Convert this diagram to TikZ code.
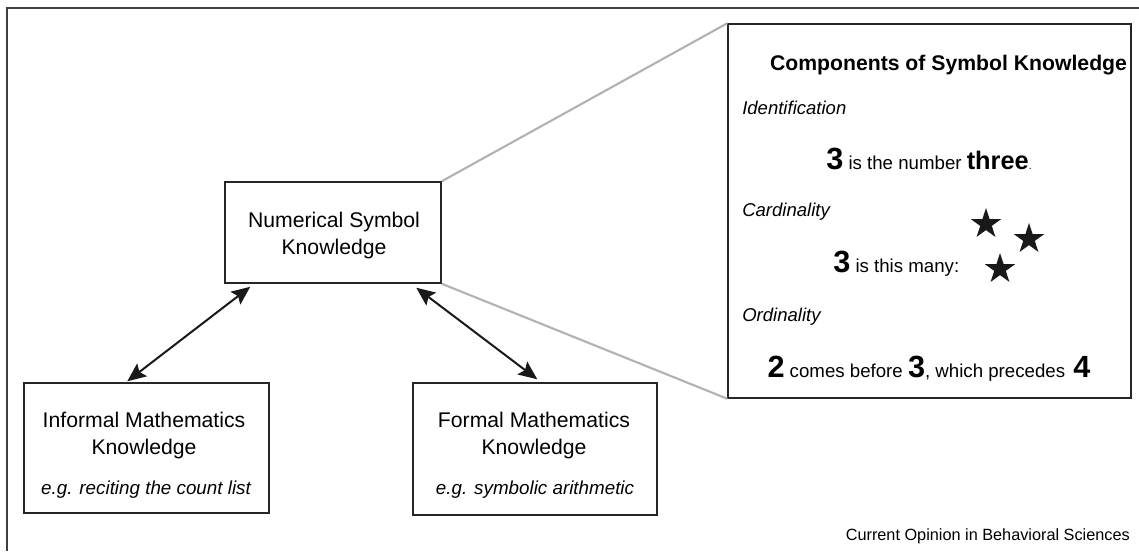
\documentclass[tikz,border=0pt]{standalone}
\usepackage{fontspec}
\setmainfont{Liberation Sans}
\usetikzlibrary{arrows.meta,shapes.geometric,calc}
\newcommand{\fs}[1]{\fontsize{#1}{#1}\selectfont}
\begin{document}
\begin{tikzpicture}[x=0.75pt,y=-0.75pt,
  box/.style={draw=black!85,line width=1.1pt,inner sep=0pt},
  lbl/.style={inner sep=0pt,align=center,font=\fontsize{15.9}{20.2}\selectfont},
  eg/.style={inner sep=0pt,font=\fontsize{14.1}{16}\selectfont\itshape},
  sec/.style={inner sep=0pt,anchor=base west,font=\fontsize{13.9}{16}\selectfont\itshape},
  ctext/.style={inner sep=0pt,font=\fontsize{14}{16}\selectfont},
  arr/.style={line width=1.5pt,black!90,arrows={Stealth[length=14pt,width=12pt,inset=2.5pt]-Stealth[length=14pt,width=12pt,inset=2.5pt]}},
  zoomline/.style={line width=1.6pt,black!30},
  staricon/.style={star,star points=5,star point ratio=2.618,fill=black!90,inner sep=0pt,minimum size=24pt}]
\useasboundingbox (0,0) rectangle (1139,551);
% frame
\draw[line width=0.8pt,black!75] (1139,8) -- (7,8) -- (7,551);
% boxes
\node[box,minimum width=162pt,minimum height=75.75pt] (num) at (333,232.5) {};
\node[box,minimum width=183.75pt,minimum height=97.5pt] (inf) at (146.5,448) {};
\node[box,minimum width=183pt,minimum height=99pt] (form) at (535,449) {};
\node[box,minimum width=302.25pt,minimum height=280.5pt] (comp) at (929.5,211) {};
% zoom lines
\draw[zoomline] (num.north east) -- (comp.north west);
\draw[zoomline] (num.south east) -- (comp.south west);
% arrows
\draw[arr] ($(num.south west)+(26,3)$) -- ($(inf.north west)+(104,-1)$);
\draw[arr] ($(num.south west)+(192,4)$) -- ($(form.north west)+(125,-3)$);
% box texts
\node[lbl,anchor=base] (numt1) at (334,227) {Numerical Symbol};
\node[lbl,anchor=base] (numt2) at (334,254) {Knowledge};
\node[lbl,anchor=base] (inft1) at (144,427) {Informal Mathematics};
\node[lbl,anchor=base] (inft2) at (144,454) {Knowledge};
\node[eg,anchor=base] (infe) at (146,494) {e.g. reciting the count list};
\node[lbl,anchor=base] (fort1) at (534,427) {Formal Mathematics};
\node[lbl,anchor=base] (fort2) at (534,454) {Knowledge};
\node[eg,anchor=base] (fore) at (535,494) {e.g. symbolic arithmetic};
% components
\node[inner sep=0pt,anchor=base,font=\fontsize{15.9}{18}\selectfont\bfseries] (title) at (948.5,70) {Components of Symbol Knowledge};
\node[sec] (ident) at (742,114) {Identification};
\node[ctext,anchor=base] (idtext) at (929,169) {{\fs{23}\bfseries 3} is the number {\fs{19}\bfseries three}{\fs{8}.}};
\node[sec] (card) at (742,216) {Cardinality};
\node[ctext,anchor=base west] (cardtext) at (833,272) {{\fs{23}\bfseries 3} is this many:};
\node[staricon] (s1) at (986,224) {};
\node[staricon] (s2) at (1029,239) {};
\node[staricon] (s3) at (1000,269) {};
\node[sec] (ord) at (742,321) {Ordinality};
\node[ctext,anchor=base] (ordtext) at (929,377) {{\fs{23}\bfseries 2} comes before {\fs{23}\bfseries 3}, which precedes\, {\fs{23}\bfseries 4}};
% footer
\node[inner sep=0pt,anchor=base east,font=\fontsize{12.2}{14}\selectfont] (foot) at (1130,540) {Current Opinion in Behavioral Sciences};
\end{tikzpicture}
\end{document}
